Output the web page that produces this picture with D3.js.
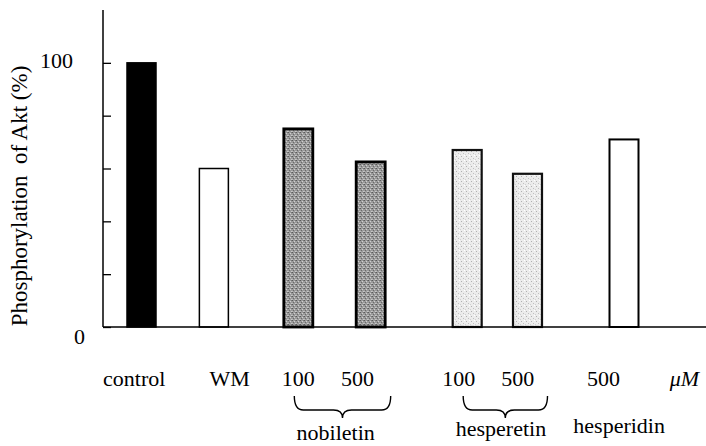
<!DOCTYPE html>
<html>
<head>
<meta charset="utf-8">
<script src="https://cdn.jsdelivr.net/npm/d3@7"></script>
<style>
  html, body { margin: 0; padding: 0; background: #fff; }
  svg { display: block; }
</style>
</head>
<body>
<svg id="chart" width="706" height="446"></svg>
<script>
// ---- data ----
const categories = ["control", "WM", "nobiletin 100", "nobiletin 500", "hesperetin 100", "hesperetin 500", "hesperidin 500"];
const values = [100, 60, 75, 62.5, 67, 58, 71];
const tickLabels = ["control", "WM", "100", "500", "100", "500", "500", "\u03BCM"];
const groups = ["nobiletin", "hesperetin", "hesperidin"];
const yTicks = [0, 20, 40, 60, 80, 100];
const yTitle = "Phosphorylation  of Akt (%)";

// ---- layout (abstract slot units along the x axis) ----
const FONT = "'Liberation Serif'";
const barSlot = [0, 6, 13, 19, 27, 32, 40];
const labelSlot = [-0.6, 7.3, 13.0, 17.9, 26.3, 31.2, 38.3, 45.0];
const styles = [
  { fill: "#000", stroke: "#000", sw: 1.5 },
  { fill: "#fff", stroke: "#000", sw: 1.5 },
  { fill: "url(#darkDot)", stroke: "#000", sw: 2.8 },
  { fill: "url(#darkDot)", stroke: "#000", sw: 2.8 },
  { fill: "url(#lightDot)", stroke: "#111", sw: 2.2 },
  { fill: "url(#lightDot)", stroke: "#111", sw: 2.2 },
  { fill: "#fff", stroke: "#000", sw: 2 }
];

const svg = d3.select("#chart");
const x = d3.scaleLinear().domain([0, 40]).range([141.5, 624]);
const y = d3.scaleLinear().domain([0, 120]).range([327, 10]);
const barW = 29;

function txt(sel, size) {
  return sel.style("font-family", FONT).style("font-size", size + "px").attr("fill", "#000");
}

// patterns
const defs = svg.append("defs");
const dk = defs.append("pattern").attr("id", "darkDot").attr("patternUnits", "userSpaceOnUse")
  .attr("width", 4).attr("height", 4);
dk.append("rect").attr("width", 4).attr("height", 4).attr("fill", "#9a9a9a");
[[0,0,"#5a5a5a"],[2,1,"#d0d0d0"],[1,2,"#6a6a6a"],[3,3,"#c8c8c8"],[3,0,"#777"],[0,3,"#bbb"]]
  .forEach(([a,b,c]) => dk.append("rect").attr("x", a).attr("y", b).attr("width", 1).attr("height", 1).attr("fill", c));
const lt = defs.append("pattern").attr("id", "lightDot").attr("patternUnits", "userSpaceOnUse")
  .attr("width", 5).attr("height", 5);
lt.append("rect").attr("width", 5).attr("height", 5).attr("fill", "#ececec");
[[1,1,"#b0b0b0"],[3,3,"#c0c0c0"],[4,0,"#fff"],[0,4,"#d0d0d0"]]
  .forEach(([a,b,c]) => lt.append("rect").attr("x", a).attr("y", b).attr("width", 1).attr("height", 1).attr("fill", c));

// bars
svg.append("g").selectAll("rect").data(values).join("rect")
  .attr("x", (d, i) => x(barSlot[i]) - barW / 2)
  .attr("y", d => y(d))
  .attr("width", barW)
  .attr("height", d => y(0) - y(d))
  .attr("fill", (d, i) => styles[i].fill)
  .attr("stroke", (d, i) => styles[i].stroke)
  .attr("stroke-width", (d, i) => styles[i].sw);

// y axis
const yAxis = d3.axisLeft(y).tickValues(yTicks).tickSizeInner(-8).tickSizeOuter(0)
  .tickFormat(d => (d === 0 || d === 100) ? d : "");
const ga = svg.append("g").attr("transform", "translate(103,0)").call(yAxis);
ga.attr("font-family", null).attr("font-size", null);
ga.select(".domain").remove();
ga.selectAll(".tick line").attr("stroke", "#000").attr("stroke-width", 1.3);
txt(ga.selectAll(".tick text"), 22)
  .attr("x", d => d === 0 ? -18 : -30)
  .attr("dy", d => d === 0 ? "0.75em" : "0.2em");
svg.append("line").attr("x1", 103).attr("x2", 103).attr("y1", y(120)).attr("y2", y(0))
  .attr("stroke", "#000").attr("stroke-width", 1.5);
svg.append("line").attr("x1", 103).attr("x2", 706).attr("y1", y(0)).attr("y2", y(0))
  .attr("stroke", "#000").attr("stroke-width", 1.6);

// y title
txt(svg.append("text"), 23).attr("transform", "translate(27,196) rotate(-90)")
  .attr("text-anchor", "middle").style("white-space", "pre")
  .text(yTitle);

// x labels
txt(svg.append("g").selectAll("text").data(tickLabels).join("text"), 22)
  .attr("x", (d, i) => x(labelSlot[i]))
  .attr("y", 386)
  .attr("text-anchor", "middle")
  .style("font-style", (d, i) => i === tickLabels.length - 1 ? "italic" : "normal")
  .text(d => d);

// braces under grouped bars
function brace(x0, x1, yTop, h) {
  const xm = (x0 + x1) / 2, r = 9, ym = yTop + h;
  return `M${x0},${yTop} Q${x0},${ym} ${x0 + r},${ym} L${xm - r},${ym} Q${xm},${ym} ${xm},${ym + 8}`
    + ` Q${xm},${ym} ${xm + r},${ym} L${x1 - r},${ym} Q${x1},${ym} ${x1},${yTop}`;
}
const braceSpans = [[barSlot[2], barSlot[3]], [barSlot[4], barSlot[5]]];
svg.append("g").selectAll("path").data(braceSpans).join("path")
  .attr("d", d => brace(x(d[0]) - 4, x(d[1]) + 20, 396, 14))
  .attr("fill", "none").attr("stroke", "#000").attr("stroke-width", 1.4);

// group names
const groupSlot = [16.1, 29.8, 39.6];
const groupBase = [440, 436, 433];
txt(svg.append("g").selectAll("text").data(groups).join("text"), 22)
  .attr("x", (d, i) => x(groupSlot[i]))
  .attr("y", (d, i) => groupBase[i])
  .attr("text-anchor", "middle")
  .text(d => d);
</script>
</body>
</html>
